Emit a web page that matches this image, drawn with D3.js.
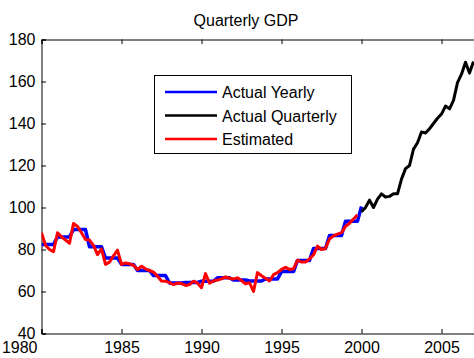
<!DOCTYPE html>
<html>
<head>
<meta charset="utf-8">
<script src="https://cdn.jsdelivr.net/npm/d3@7"></script>
<style>
  html, body { margin: 0; padding: 0; background: #fff; }
  svg { display: block; font-family: "Liberation Sans", Arial, sans-serif; }
</style>
</head>
<body>
<svg id="chart" width="474" height="358"></svg>
<script>
// Yearly GDP averages, 1980-1999, plus the 2000 value
const yearlyYears = d3.range(1980, 2000);
const yearlyValues = [82.4, 86, 89.5, 81.3, 75.9, 72.9, 70, 67.6, 64.1, 64.3,
                      64.9, 66.5, 65.5, 65, 66, 69.5, 74.8, 80.5, 86.7, 93.5];
const yearly2000 = 100.5;

// Actual quarterly GDP, 2000Q1 - 2007Q1
const quarterlyStart = 2000;
const quarterlyValues = [98, 100, 103.5, 100, 104, 106.5, 105, 105.3, 106.5, 106.5,
                         113.5, 118.5, 120, 127.8, 130.8, 136, 135.5, 137.5, 140, 142.5,
                         144.5, 148.3, 147, 151, 159.5, 163.5, 169.2, 164, 169.5];

// Estimated quarterly GDP, 1980Q1 - 1999Q4
const estimatedStart = 1980;
const estimatedValues = [88, 82, 80, 79, 88, 86, 84.5, 83, 92.4, 91,
                         88, 84.8, 84.5, 82, 77.6, 80.3, 72.9, 74, 77, 79.7,
                         72.9, 73.6, 73.2, 72.5, 70.5, 72, 70.8, 70, 69.2, 67.3,
                         65, 64.9, 64.2, 63.3, 64, 63.8, 62.9, 63.3, 64.9, 64,
                         61.8, 68.5, 64, 65, 65.5, 66, 67, 66.3, 66, 66.5,
                         65.2, 63.6, 64.2, 60, 69, 67.5, 66.3, 65, 68, 69,
                         70.5, 71.5, 70.5, 70.8, 74.9, 74, 74, 75.5, 77.5, 81.6,
                         80, 80.5, 85, 86.5, 87.3, 88, 91, 92.5, 94.5, 96.5];

const xTicks = [1980, 1985, 1990, 1995, 2000, 2005];
const yTicks = [40, 60, 80, 100, 120, 140, 160, 180];

const seriesNames = ["Actual Yearly", "Actual Quarterly", "Estimated"];
const seriesColors = ["#0000ff", "#000000", "#ff0000"];

(function draw() {
  // Point lists: each yearly value is held across its four quarters
  const yearlyPts = [];
  yearlyYears.forEach((yr, i) => {
    for (let q = 0; q < 4; q++) yearlyPts.push([yr + q * 0.25, yearlyValues[i]]);
  });
  yearlyPts.push([2000, yearly2000]);
  const quarterlyPts = quarterlyValues.map((v, i) => [quarterlyStart + i * 0.25, v]);
  const estimatedPts = estimatedValues.map((v, i) => [estimatedStart + i * 0.25, v]);

  const svg = d3.select("#chart");
  const axLeft = 41.5, axTop = 39.5, axBottom = 333.5;
  const pxPerYear = 16;
  const axRight = 480;

  const x = d3.scaleLinear().domain([1980, 1980 + (axRight - axLeft) / pxPerYear]).range([axLeft, axRight]);
  const y = d3.scaleLinear().domain([40, 180]).range([axBottom, axTop]);

  // Axes box with inward ticks
  const tickLen = 4.5;
  const axB = svg.append("g").attr("transform", `translate(0,${axBottom})`)
    .call(d3.axisBottom(x).tickValues(xTicks).tickFormat(d3.format("d")).tickSize(-tickLen).tickPadding(8));
  const axT = svg.append("g").attr("transform", `translate(0,${axTop})`)
    .call(d3.axisTop(x).tickValues(xTicks).tickFormat("").tickSize(-tickLen));
  const axL = svg.append("g").attr("transform", `translate(${axLeft},0)`)
    .call(d3.axisLeft(y).tickValues(yTicks).tickSize(-tickLen).tickPadding(6));

  [axB, axT, axL].forEach(g => {
    g.select(".domain").attr("stroke", "#000").attr("stroke-width", 1);
    g.selectAll(".tick line").attr("stroke", "#000");
    g.selectAll("text").attr("font-size", 16).attr("fill", "#000")
      .attr("font-family", "'Liberation Sans', Arial, sans-serif");
  });
  // First year label sits flush against the left edge, below the "40" label
  axB.selectAll(".tick text").filter(d => d === xTicks[0])
    .attr("text-anchor", "end").attr("x", -4.5);

  // Series
  const line = d3.line().x(d => x(d[0])).y(d => y(d[1]));
  svg.append("clipPath").attr("id", "plotclip").append("rect")
    .attr("x", axLeft).attr("y", axTop - 5).attr("width", axRight - axLeft).attr("height", axBottom - axTop + 5);
  const plot = svg.append("g").attr("clip-path", "url(#plotclip)");
  [[yearlyPts, 0, 3.5], [quarterlyPts, 1, 3], [estimatedPts, 2, 3]].forEach(([pts, k, w]) => {
    plot.append("path").datum(pts).attr("d", line)
      .attr("fill", "none").attr("stroke", seriesColors[k]).attr("stroke-width", w)
      .attr("stroke-linejoin", "round").attr("stroke-linecap", "butt");
  });

  // Title
  svg.append("text").attr("x", 246).attr("y", 26).attr("text-anchor", "middle")
    .attr("font-size", 16).attr("fill", "#000").text("Quarterly GDP");

  // Legend
  const lg = svg.append("g");
  lg.append("rect").attr("x", 154.5).attr("y", 75.5).attr("width", 197).attr("height", 78)
    .attr("fill", "#fff").attr("stroke", "#000").attr("stroke-width", 1);
  const rowY = [92, 115.5, 139];
  seriesNames.forEach((name, i) => {
    lg.append("line").attr("x1", 165).attr("x2", 217).attr("y1", rowY[i]).attr("y2", rowY[i])
      .attr("stroke", seriesColors[i]).attr("stroke-width", 2.5);
    lg.append("text").attr("x", 222).attr("y", rowY[i] + 6).attr("font-size", 16)
      .attr("fill", "#000").text(name);
  });
})();
</script>
</body>
</html>
